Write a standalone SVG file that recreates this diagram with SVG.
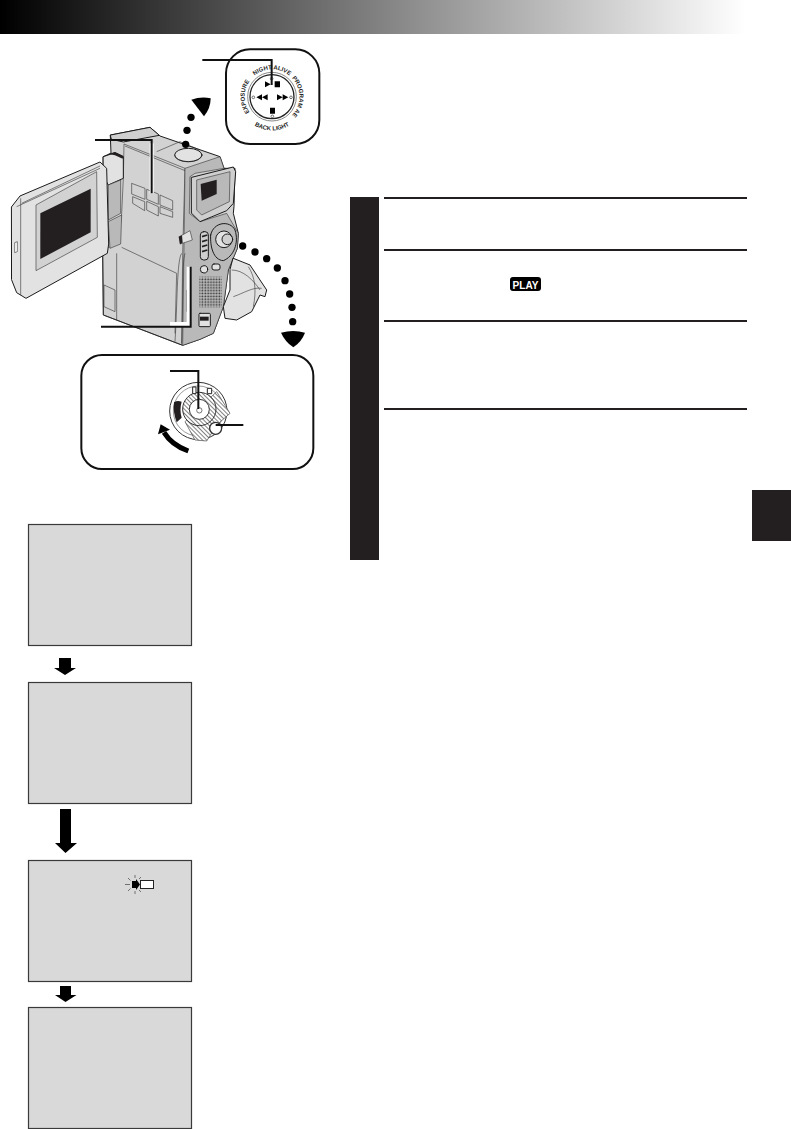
<svg xmlns="http://www.w3.org/2000/svg" width="791" height="1129" viewBox="0 0 791 1129">
<style>
.o{stroke:#1a1a1a;stroke-width:3;stroke-linejoin:round;stroke-linecap:round}
.b{fill:#d2d2d2}.l{fill:#e2e2e2}.m{fill:#b9b9b9}.e{fill:#cfcfcf}.d{fill:#231f20}.w{fill:#fff}.n{fill:none}
.t{stroke:#333;stroke-width:1.8}
.c{fill:none;stroke:#111;stroke-width:6}
.h{fill:none;stroke:#fff;stroke-width:12}
.s{fill:#d9d9d9;stroke:#3a3a3a;stroke-width:1.2}
.rule{fill:#231f20}
.ar{fill:#000}
</style>
<defs>
<linearGradient id="hd" x1="0" x2="1" y1="0" y2="0"><stop offset="0" stop-color="#000"/><stop offset="1" stop-color="#fff"/></linearGradient>
<pattern id="grid" width="8.500" height="8.500" patternUnits="userSpaceOnUse"><circle cx="4" cy="4" r="2.700" fill="#333"/></pattern>
<pattern id="st" width="9" height="9" patternUnits="userSpaceOnUse" patternTransform="rotate(45)"><rect width="9" height="9" fill="#fff"/><rect width="9" height="2.200" fill="#555"/></pattern>
</defs>
<rect width="791" height="1129" fill="#fff"/>
<rect id="header" width="745" height="34" fill="url(#hd)"/>

<g id="camera" transform="translate(0 40) scale(.33333)">
<path class="b o" d="M332 285L450 262 480 288 660 350 672 385 705 385 702 500 700 520 715 580 712 625 685 690 670 800 640 880 600 898 548 916 310 825 308 640 310 350 332 340Z"/>
<path class="e o" d="M332 285L450 262 478 286 370 306 335 298Z"/>
<path class="n t" d="M372 312L555 385 548 640 545 915 310 825 308 630 355 610 365 520 370 415Z"/>
<path class="m t" d="M555 385L660 350 672 385 585 400 570 410 568 520 600 545 680 520 715 580 712 625 685 690 670 800 640 880 600 898 548 916Z"/>
<path class="n t" d="M375 318L555 392M470 335L540 305 600 330M365 622L530 700 525 880M350 640L350 840M312 735L345 750 345 815 312 800Z"/>
<path class="n t" d="M545 640C530 660 532 800 525 905M555 640C545 670 550 800 545 910M560 750V815"/>
<ellipse class="l o" cx="565" cy="345" rx="41" ry="20"/>
<path class="n t" d="M524 345C530 372 600 372 606 345"/>
<path class="l o" d="M310 350L345 338 370 350 370 415 325 435 310 410Z"/>
<path class="d" d="M325 342L345 336 370 348 368 356 345 346Z"/>
<path class="m t" d="M325 435L362 420 362 520 325 540ZM325 545L365 525 362 612 330 625Z"/>
<path class="l o" d="M35 500L60 468 300 366 320 385 326 612 322 640 78 775 50 758 35 720Z"/>
<path class="n t" d="M62 475L62 765M50 500L300 385M65 490L300 378"/>
<path class="b t" d="M108 495L290 395 292 592 108 692Z"/>
<path class="d" d="M121 520L272 446 272 577 121 657Z"/>
<path class="w t" d="M44 608L52 605 52 635 44 638Z"/>
<path class="n t" d="M395 430L435 445 435 478 395 462ZM398 470L434 485 434 512 398 490ZM440 448L475 462 475 493 440 478ZM440 484L475 500 475 528 440 510ZM480 465L518 482 518 510 480 495ZM480 500L518 515 518 532 480 520Z"/>
<path class="e o" d="M575 412L700 381 707 395 700 490 680 512 600 545 575 520Z"/>
<path class="m t" d="M590 420L690 395 688 485 605 525 590 510Z"/>
<path class="d" d="M602 432L650 419 650 462 605 482Z"/>
<path class="l t" d="M538 590L570 572 577 600 541 612Z"/>
<path class="d" d="M536 590L546 586 548 608 540 613Z"/>
<rect class="e o" x="601" y="575" width="24" height="85" rx="10"/>
<path stroke="#222" stroke-width="5" d="M606 590L622 585M606 605L622 600M606 620L622 615M606 635L622 630"/>
<path class="m o" d="M632 585C640 545 690 540 705 570 718 610 700 650 670 662 640 660 630 620 632 585Z"/>
<circle class="l o" cx="672" cy="598" r="25"/>
<circle class="e o" cx="682" cy="598" r="16"/>
<circle class="l o" cx="612" cy="688" r="11"/>
<rect class="l o" x="636" y="672" width="24" height="18" rx="6"/>
<rect x="598" y="710" width="68" height="92" fill="url(#grid)"/>
<rect class="l o" x="597" y="820" width="34" height="40" rx="3"/>
<rect class="d" x="600" y="830" width="26" height="12"/>
<path class="l o" d="M700 655L750 675 780 720 800 750 795 770 780 765 755 815 710 840 675 835 670 800 690 750 690 690Z"/>
<path class="n t" d="M695 690C730 690 760 720 780 750M700 770C730 760 760 740 785 745M745 680C765 710 770 750 760 800"/>
<g id="dots1" fill="#000"><circle cx="573" cy="232" r="11"/><circle cx="561" cy="271" r="11"/><circle cx="557" cy="313" r="11"/><path d="M574 179Q604 168 632 175 632 205 612 229Z"/></g>
<g id="dots2" fill="#000"><circle cx="728" cy="618" r="11"/><circle cx="765" cy="636" r="11"/><circle cx="800" cy="656" r="11"/><circle cx="832" cy="684" r="11"/><circle cx="855" cy="722" r="11"/><circle cx="869" cy="762" r="11"/><circle cx="876" cy="802" r="11"/><circle cx="878" cy="845" r="11"/><path d="M843 878Q880 868 915 878 905 905 880 922 855 905 843 878Z"/></g>
<g id="dial">
<rect x="678" y="28" width="280" height="284" rx="72" fill="#fff" stroke="#111" stroke-width="6"/>
<circle cx="816" cy="170" r="66" fill="none" stroke="#222" stroke-width="4"/>
<circle cx="816" cy="170" r="73" fill="none" stroke="#888" stroke-width="3"/>
<path class="ar" d="M795 124L812 133 795 142ZM824 124H840V142H824ZM810 203H825V221H810ZM831 163L848 172 831 181ZM848 163L865 172 848 181ZM803 163L786 172 803 181ZM786 163L769 172 786 181Z"/>
<g fill="none" stroke="#333" stroke-width="2"><circle cx="815" cy="116" r="4"/><circle cx="760" cy="172" r="4"/><circle cx="873" cy="172" r="4"/><circle cx="817" cy="229" r="4"/></g>
<path id="pa" fill="none" d="M816 252A82 82 0 1 1 816 88A82 82 0 1 1 816 252"/>
<path id="pb" fill="none" d="M726 216A101 101 0 0 0 906 216"/>
<g font-family="'Liberation Sans',Arial,sans-serif" font-weight="700" font-size="18" fill="#222" text-anchor="middle">
<text><textPath href="#pa" startOffset="25%">EXPOSURE</textPath></text>
<text><textPath href="#pa" startOffset="50%">NIGHT ALIVE</textPath></text>
<text><textPath href="#pa" startOffset="75%">PROGRAM AE</textPath></text>
<text><textPath href="#pb" startOffset="50%">BACK LIGHT</textPath></text>
</g>
</g>
</g>

<g id="connectors">
<g transform="translate(0 40) scale(.33333)">
<path class="h" d="M455 310V460"/><path class="h" d="M510 852H566V680"/>
<path class="c" d="M607 60H815V135"/>
<path class="c" d="M285 300H455V460"/>
<path class="c" d="M303 860H572V680"/>
</g>
</g>

<g id="inset" transform="translate(70 345) scale(.33333)">
<rect x="34" y="30" width="696" height="342" rx="62" fill="#fff" stroke="#111" stroke-width="6"/>
<circle cx="385" cy="198" r="86" fill="#fff" stroke="#333" stroke-width="3"/>
<circle cx="385" cy="198" r="75" fill="none" stroke="#666" stroke-width="2"/>
<path d="M312 172Q322 165 335 170 328 195 335 218L320 232Q308 200 312 172Z" fill="#231f20"/>
<path d="M345 230L440 140 480 205 440 240 410 288 375 285Z" fill="url(#st)" stroke="#444" stroke-width="2"/>
<circle cx="388" cy="192" r="50" fill="url(#st)" stroke="#333" stroke-width="3"/>
<circle cx="388" cy="193" r="30" fill="#fff" stroke="#333" stroke-width="3"/>
<circle cx="388" cy="196" r="8" fill="#fff" stroke="#333" stroke-width="2"/>
<circle cx="437" cy="250" r="18" fill="#fff" stroke="#333" stroke-width="4"/>
<path d="M368 126H378V146H368ZM412 130H425V146H412Z" fill="#fff" stroke="#222" stroke-width="3"/>
<path d="M355 318Q305 300 282 262" fill="none" stroke="#000" stroke-width="15"/>
<path d="M264 268L272 238 300 254Z" fill="#000"/>
<path class="c" d="M300 78H385V192"/>
<path class="c" d="M437 240H520"/>
</g>

<g id="steps">
<rect class="rule" x="350" y="197" width="29" height="363"/>
<rect class="rule" x="384" y="197" width="363" height="2"/>
<rect class="rule" x="384" y="249" width="363" height="2"/>
<rect class="rule" x="384" y="320" width="363" height="2"/>
<rect class="rule" x="384" y="408" width="363" height="2"/>
<g id="play"><rect x="510" y="277" width="31" height="14" rx="3" fill="#000"/><text x="525.500" y="288.500" text-anchor="middle" font-family="'Liberation Sans',Arial,sans-serif" font-weight="700" font-size="11.500" fill="#fff" textLength="26" lengthAdjust="spacingAndGlyphs">PLAY</text></g>
</g>
<rect id="tab" x="752" y="490" width="39" height="51" fill="#231f20"/>

<g id="screen1"><rect class="s" x="28.500" y="524.500" width="163" height="121"/></g>
<g id="screen2"><rect class="s" x="28.500" y="682.500" width="163" height="121"/></g>
<g id="screen3"><rect class="s" x="28.500" y="860.500" width="163" height="121"/>
<rect x="140.500" y="880.500" width="13" height="8" fill="#fff" stroke="#222"/>
<path d="M132 881H136V879L140 884.500 136 890V888H132Z" fill="#000"/>
<path d="M135 875V878M135 891V894M125 884.500H130M128 878L130.500 880.500M128 891L130.500 888.500M141 877L139 879M141 892L139 890" stroke="#555" stroke-width=".8" fill="none"/>
</g>
<g id="screen4"><rect class="s" x="28.500" y="1007.500" width="163" height="121"/></g>
<g id="arrows" class="ar">
<path d="M59 658H71V668H76L65 675 54 668H59Z"/>
<path d="M60 809H71V843H77L65.500 853 55 843H60Z"/>
<path d="M60 986H71V995H76.500L65.500 1002 55 995H60Z"/>
</g>
</svg>
